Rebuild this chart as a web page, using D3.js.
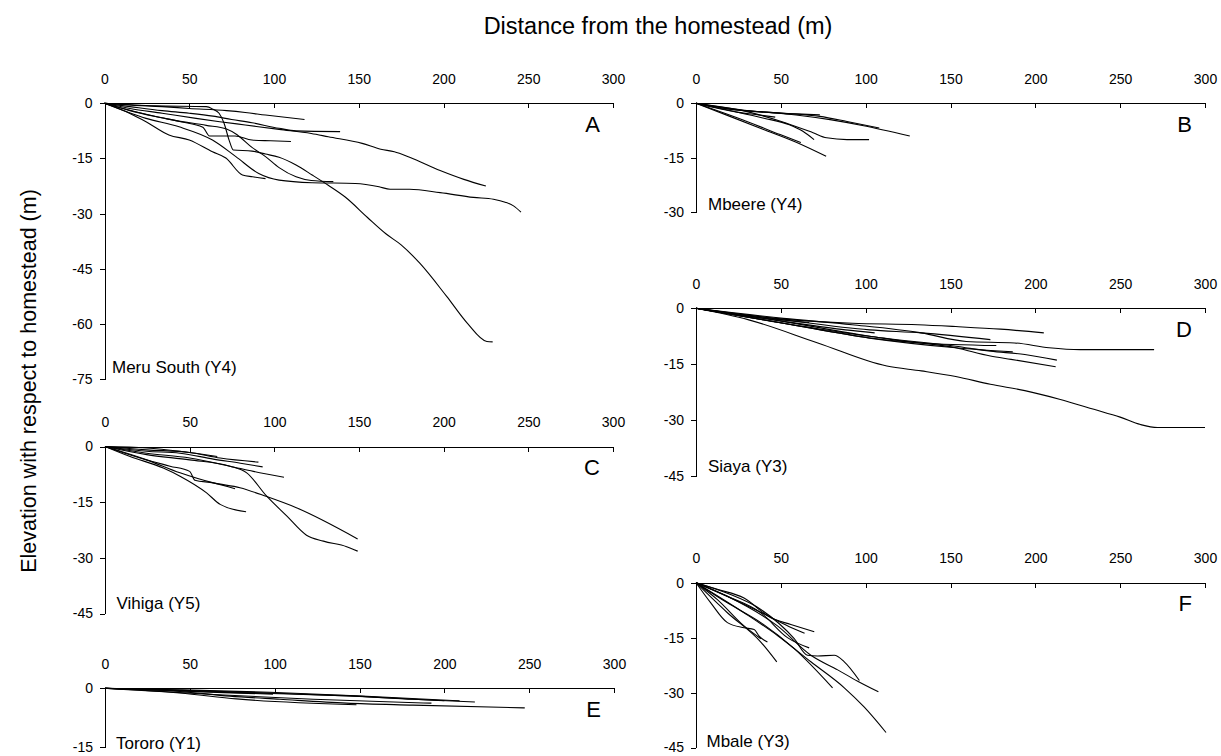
<!DOCTYPE html>
<html>
<head>
<meta charset="utf-8">
<script src="https://cdn.jsdelivr.net/npm/d3@7"></script>
<style>
  html, body { margin: 0; padding: 0; background: #fff; }
  svg { display: block; font-family: "Liberation Sans", Arial, sans-serif; }
</style>
</head>
<body>
<script>
// ---------- tick labels ----------
const xTicks = [0, 50, 100, 150, 200, 250, 300];
const yTicksA = [0, -15, -30, -45, -60, -75];
const yTicksB = [0, -15, -30];
const yTicksC = [0, -15, -30, -45];
const yTicksD = [0, -15, -30, -45];
const yTicksE = [0, -15];
const yTicksF = [0, -15, -30, -45];

// ---------- data: [distance (m), elevation (m)] per transect ----------
const meruSouth = [
  [[0,0],[16,-0.5],[34,-0.9],[50,-1.4],[72,-2.0],[83,-2.5],[95,-3.2],[118,-4.4]],
  [[0,0],[15,-0.9],[34,-2],[50,-2.7],[64,-3.5],[75,-4.4],[87,-5.3],[103,-6.8],[113,-7.5],[139,-7.7]],
  [[0,0],[15,-1.4],[34,-2.7],[54,-4.1],[68,-5],[83,-5.9],[103,-7.1],[122,-8.2],[132,-9.1],[152,-10.9],[163,-12.5],[171,-13.2],[180,-14.7],[198,-18.3],[212,-20.7],[225,-22.5]],
  [[0,0],[30,-0.7],[60,-0.9],[64,-1.6],[67.6,-2.7],[70.6,-5.5],[73.5,-10],[76,-12.7],[87,-13],[95,-13.8],[103,-14.7],[113,-16.8],[122.5,-19.5],[132,-22.3],[142,-25.5],[155,-31],[166,-35.5],[175,-38.5],[186,-43.5],[202,-52.6],[214,-59.8],[225.6,-64.8],[229,-64.9]],
  [[0,0],[24.5,-4.1],[44,-6.4],[63.7,-10],[77.5,-14.5],[91,-19.1],[103,-20.9],[122.5,-21.6],[148,-21.8],[162,-22.7],[168.5,-23.4],[180,-23.4],[198,-24.3],[217.7,-25.6],[229.5,-26.1],[236.4,-26.9],[241.3,-27.9],[245.7,-29.6]],
  [[0,0],[14.7,-2.7],[24.5,-5],[38,-8.6],[50,-10],[63.7,-13.2],[71.6,-14.9],[81.4,-19.5],[87.3,-20],[95,-20.5]],
  [[0,0],[15,-2],[30,-3.6],[45,-5],[58,-6.5],[62,-8.9],[77,-8.9],[87,-10],[98,-10.2],[110,-10.4]],
  [[0,0],[20,-2.5],[40,-4.5],[60,-6],[72,-7],[78,-8.5],[87,-12],[95,-14.5],[103,-17.5],[113,-20],[122,-21],[135,-21.3]]
];

const mbeere = [
  [[0,0],[20,-1.6],[50,-2.7],[73,-3.2]],
  [[0,0],[20,-1.6],[50,-2.7],[73,-3.6],[89,-5],[108,-6.8]],
  [[0,0],[30,-2],[59,-3.2],[79,-4.5],[98,-6.1],[126,-9]],
  [[0,0],[25,-2.5],[37,-3.2],[46.7,-3.8]],
  [[0,0],[20,-2],[40,-4.1],[55,-5.9],[63,-7.7],[69.6,-10]],
  [[0,0],[30,-2.3],[53,-5.4],[69,-8.1],[77,-9.5],[89,-10],[102,-10]],
  [[0,0],[30,-5],[49.6,-8.6],[61.8,-10.8]],
  [[0,0],[20,-3.6],[39.8,-7.2],[59.4,-10.8],[76.7,-14.6]]
];

const vihiga = [
  [[0,0],[24.6,-0.4],[44.3,-1.3],[66.3,-2.7]],
  [[0,0],[24.6,-0.9],[50,-1.6],[68,-3.1],[90.6,-4.2]],
  [[0,0],[24.6,-1.3],[44.3,-1.8],[64,-3.4],[80,-4.5],[93.1,-5.5]],
  [[0,0],[24.6,-1.8],[50,-3.1],[73.8,-5.3],[87.6,-6.7],[105.7,-8.3]],
  [[0,0],[20.7,-3.1],[38.4,-5.3],[50,-6.7],[53.1,-9.1],[64,-9.8],[76.8,-11.4]],
  [[0,0],[14.8,-2.7],[34.4,-5.8],[44.3,-8],[60,-12.5],[68,-15.6],[83.3,-17.6]],
  [[0,0],[24.6,-3.6],[44.3,-7.1],[64,-9.8],[79.7,-11.1],[95.5,-13.5],[113,-16.5],[149.2,-24.9]],
  [[0,0],[24.6,-2.2],[50,-3.6],[73.8,-5.3],[83.7,-7.1],[95.5,-13.4],[107.3,-18.7],[119,-23.9],[129,-25.5],[142.7,-27],[149.2,-28.2]]
];

const siaya = [
  [[0,0],[51.5,-2.9],[92.1,-4],[130.8,-4.4],[153.1,-4.9],[179.5,-5.6],[205,-6.6]],
  [[0,0],[51.5,-2.7],[92.1,-4.4],[132.8,-6.6],[159.3,-8.9],[187.7,-9.3],[208.1,-10.6],[226.4,-11.1],[270,-11.1]],
  [[0,0],[51.5,-3.5],[102.3,-7.5],[153.1,-10.2],[173.5,-11.5],[193.8,-12.4],[212.7,-13.9]],
  [[0,0],[51.5,-4],[102.3,-7.97],[153.1,-10.6],[173.5,-12.8],[185.7,-13.7],[212,-15.7]],
  [[0,0],[51.5,-4],[102.3,-8],[153.1,-10.6],[186.7,-11.7]],
  [[0,0],[51.5,-4],[102.3,-7.5],[132.8,-9.3],[177,-10]],
  [[0,0],[51.5,-3.5],[88.1,-5.8],[105.3,-6.6]],
  [[0,0],[31.1,-2.2],[66.7,-3.8]],
  [[0,0],[51.5,-3.1],[102.3,-5.8],[132.8,-6.6],[173.5,-8.4]],
  [[0,0],[31.1,-3.1],[71.8,-9.3],[112.5,-15.5],[132.8,-16.8],[153.1,-18.3],[173.5,-20.4],[193.8,-22.1],[214.2,-24.4],[234.5,-27.1],[250,-29.2],[262,-31.2],[272,-32],[300,-32]]
];

const tororo = [
  [[0,0],[44.2,-0.8],[73.6,-2],[103,-2.8],[142.3,-3.8],[181.5,-4.3],[247.4,-5]],
  [[0,0],[54,-0.8],[103,-1.4],[148.2,-2],[181.5,-2.8],[218,-3.5]],
  [[0,0],[44.2,-0.4],[97.2,-1],[148.2,-1.9],[209,-3.2]],
  [[0,0],[63.8,-1.6],[122.7,-2.8],[192.4,-3.8]],
  [[0,0],[44.2,-1.2],[77.5,-2.7],[148.2,-4.2]],
  [[0,0],[50,-0.6],[98,-1.2],[150,-2.1],[200,-3.2]],
  [[0,0],[35,-0.5],[70,-1.1],[99,-1.5]]
];

const mbale = [
  [[0,0],[12.6,-1.8],[28.3,-4.2],[44.1,-9.6],[55.9,-11.4],[69.7,-13.4]],
  [[0,0],[18.5,-3.7],[38.2,-8.2],[53.9,-15],[66.7,-17.8]],
  [[0,0],[18.5,-2.9],[38.2,-7.3],[57.9,-15.3],[65.7,-19.8],[71.7,-20],[81.5,-19.8],[87.4,-21.6],[96.3,-26.7]],
  [[0,0],[18.5,-3.7],[48,-11.8],[67.7,-19.8],[83.5,-23.8],[95.3,-26.9],[107.5,-29.8]],
  [[0,0],[28.3,-8.2],[48,-14.4],[67.7,-21.6],[87.4,-28.7],[99.2,-34],[112,-40.9]],
  [[0,0],[18.5,-5.5],[38.2,-10.9],[57.9,-18],[80.5,-28.7]],
  [[0,0],[18.5,-8.2],[38.2,-16.2],[47.6,-21.6]],
  [[0,0],[8.7,-5.5],[18.5,-10.9],[28.3,-12.3],[34.3,-12.8],[37.2,-14.6],[42.1,-16.2]],
  [[0,0],[12.6,-4.6],[28.3,-11.8],[38.2,-15.3]],
  [[0,0],[22,-4.5],[40,-8.5],[55,-12],[64,-13.8]]
];

// ---------- layout (pixels) ----------
const panels = [
  {data: meruSouth, ticks: yTicksA, name: "Meru South (Y4)", letter: "A", left: 104.5, right: 613, top: 103.3, bottom: 379, labelX: 112, labelY: 373},
  {data: mbeere,    ticks: yTicksB, name: "Mbeere (Y4)",     letter: "B", left: 696,   right: 1205, top: 103.3, bottom: 212.3, labelX: 708, labelY: 210},
  {data: vihiga,    ticks: yTicksC, name: "Vihiga (Y5)",     letter: "C", left: 105,   right: 613, top: 446.5, bottom: 613.5, labelX: 116.5, labelY: 609},
  {data: siaya,     ticks: yTicksD, name: "Siaya (Y3)",      letter: "D", left: 696,   right: 1205, top: 308.3, bottom: 476, labelX: 708, labelY: 472},
  {data: tororo,    ticks: yTicksE, name: "Tororo (Y1)",     letter: "E", left: 105,   right: 614, top: 688.3, bottom: 747, labelX: 116, labelY: 749},
  {data: mbale,     ticks: yTicksF, name: "Mbale (Y3)",      letter: "F", left: 696,   right: 1205, top: 582.7, bottom: 747.5, labelX: 706.5, labelY: 747}
];

const svg = d3.select("body").append("svg")
  .attr("width", 1221).attr("height", 756);

svg.append("text")
  .attr("x", 658).attr("y", 34)
  .attr("text-anchor", "middle")
  .attr("font-size", 23.5)
  .text("Distance from the homestead (m)");

svg.append("text")
  .attr("transform", "translate(36,381) rotate(-90)")
  .attr("text-anchor", "middle")
  .attr("font-size", 21.5)
  .text("Elevation with respect to homestead (m)");

const line = d3.line().curve(d3.curveMonotoneX);

panels.forEach(p => {
  const yMin = d3.min(p.ticks);
  const x = d3.scaleLinear().domain([0, 300]).range([p.left, p.right]);
  const y = d3.scaleLinear().domain([0, yMin]).range([p.top, p.bottom]);
  const g = svg.append("g");

  const xa = g.append("g")
    .attr("transform", `translate(0,${p.top})`)
    .call(d3.axisTop(x).tickValues(xTicks).tickSize(-5).tickSizeOuter(0).tickPadding(19.5).tickFormat(d => String(d)));
  const ya = g.append("g")
    .attr("transform", `translate(${p.left},0)`)
    .call(d3.axisLeft(y).tickValues(p.ticks).tickSize(5).tickSizeOuter(0).tickPadding(7).tickFormat(d => String(d)));

  [xa, ya].forEach(a => {
    a.attr("font-family", null).attr("font-size", null);
    a.selectAll("text").attr("font-size", 14).attr("fill", "#000");
    a.selectAll("line, path").attr("stroke", "#000").attr("stroke-width", 1).attr("shape-rendering", "crispEdges");
  });

  g.append("g")
    .selectAll("path")
    .data(p.data)
    .join("path")
    .attr("fill", "none")
    .attr("stroke", "#000")
    .attr("stroke-width", 1.1)
    .attr("d", d => line(d.map(pt => [x(pt[0]), y(pt[1])])));

  g.append("text")
    .attr("x", p.labelX).attr("y", p.labelY)
    .attr("font-size", 17)
    .text(p.name);

  g.append("text")
    .attr("x", p.right - 13).attr("y", p.top + 28.5)
    .attr("text-anchor", "end")
    .attr("font-size", 22)
    .text(p.letter);
});
</script>
</body>
</html>
